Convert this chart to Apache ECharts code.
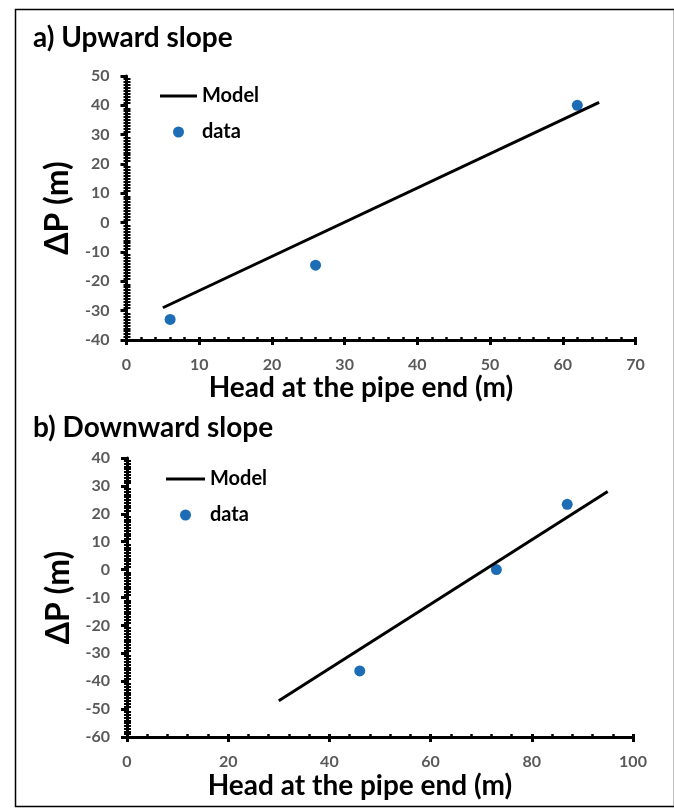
<!DOCTYPE html>
<html>
<head>
<meta charset="utf-8">
<title>Delta P vs head at the pipe end</title>
<script src="https://cdn.jsdelivr.net/npm/echarts@6/dist/echarts.min.js"></script>
<style>
  html, body { margin: 0; padding: 0; background: #fff; }
</style>
</head>
<body>
<div id="main" style="width: 674px; height: 811px;"></div>
<script type="text/javascript">
// a) upward slope
var upModelX = [5, 65];
var upModelY = [-29, 41];
var upDataX = [6, 26, 62];
var upDataY = [-33, -14.5, 40];

// b) downward slope
var downModelX = [30, 95];
var downModelY = [-47, 28];
var downDataX = [46, 73, 87];
var downDataY = [-36.3, 0, 23.4];

var legendNames = ['Model', 'data'];
var panelTitles = ['a) Upward slope', 'b) Downward slope'];
var xAxisTitle = 'Head at the pipe end (m)';
var yAxisTitle = 'ΔP (m)';

var FONT = 'Lato';
var BLUE = '#1c6db5';
var LABEL_GRAY = '#595959';

function pairs(xs, ys) {
  return xs.map(function (x, i) { return [x, ys[i]]; });
}

var myChart = echarts.init(document.getElementById('main'));

// main axis: line, outside ticks, labels, name
function mainX(grid, min, max, interval, minorSplit, nameGap) {
  return {
    type: 'value', gridIndex: grid, position: 'bottom',
    min: min, max: max, interval: interval,
    name: xAxisTitle, nameLocation: 'middle', nameGap: nameGap,
    nameTextStyle: { fontFamily: FONT, fontWeight: 'bold', fontSize: 28, color: '#000', padding: [0, 40, 0, 0] },
    axisLine: { onZero: false, lineStyle: { color: '#000', width: 3 } },
    axisTick: { show: true, length: 5, lineStyle: { color: '#000', width: 3 } },
    minorTick: { show: true, splitNumber: minorSplit, length: 2, lineStyle: { color: '#000', width: 2 } },
    axisLabel: { margin: 17, fontFamily: FONT, fontWeight: 'bold', fontSize: 16, color: LABEL_GRAY },
    splitLine: { show: false }
  };
}
// overlay axis: inside half of the cross ticks
function crossX(grid, min, max, interval, minorSplit) {
  return {
    type: 'value', gridIndex: grid, position: 'bottom',
    min: min, max: max, interval: interval,
    axisLine: { show: false, onZero: false },
    axisTick: { show: true, inside: true, length: 3, lineStyle: { color: '#000', width: 3 } },
    minorTick: { show: true, splitNumber: minorSplit, length: 3, lineStyle: { color: '#000', width: 2.5 } },
    axisLabel: { show: false },
    splitLine: { show: false }
  };
}
function mainY(grid, min, max, interval) {
  return {
    type: 'value', gridIndex: grid, position: 'left',
    min: min, max: max, interval: interval,
    name: yAxisTitle, nameLocation: 'middle', nameGap: 51, nameRotate: 90,
    nameTextStyle: { fontFamily: FONT, fontWeight: 'bold', fontSize: 32, color: '#000' },
    axisLine: { onZero: false, lineStyle: { color: '#000', width: 3 } },
    axisTick: { show: true, length: 6, lineStyle: { color: '#000', width: 3 } },
    minorTick: { show: true, splitNumber: 10, length: 3, lineStyle: { color: '#000', width: 2 } },
    axisLabel: { margin: 17, fontFamily: FONT, fontWeight: 'bold', fontSize: 16, color: LABEL_GRAY },
    splitLine: { show: false }
  };
}
function crossY(grid, min, max, interval) {
  return {
    type: 'value', gridIndex: grid, position: 'left',
    min: min, max: max, interval: interval,
    axisLine: { show: false, onZero: false },
    axisTick: { show: false, inside: true },
    minorTick: { show: true, splitNumber: 10, length: 4, lineStyle: { color: '#000', width: 2 } },
    axisLabel: { show: false },
    splitLine: { show: false }
  };
}

function legendAt(left, top, iconWidth) {
  return {
    data: [
      { name: legendNames[0], icon: 'path://M0,0L40,0L40,3L0,3Z' },
      { name: legendNames[1], icon: 'circle' }
    ],
    orient: 'vertical', left: left, top: top, padding: 0,
    itemWidth: iconWidth, itemHeight: 11, itemGap: 14,
    textStyle: { fontFamily: FONT, fontWeight: 'bold', fontSize: 20, color: '#000', lineHeight: 22 },
    selectedMode: false
  };
}

var option = {
  backgroundColor: '#fff',
  animation: false,
  title: [
    { text: panelTitles[0], left: 28, top: 19, textStyle: { fontFamily: FONT, fontWeight: 'bold', fontSize: 28, color: '#000' } },
    { text: panelTitles[1], left: 28, top: 409, textStyle: { fontFamily: FONT, fontWeight: 'bold', fontSize: 28, color: '#000' } }
  ],
  legend: [legendAt(160, 85, 37), legendAt(166, 468, 39)],
  grid: [
    { left: 126.5, top: 76, width: 509, height: 264 },
    { left: 127, top: 458, width: 506, height: 279 }
  ],
  xAxis: [
    mainX(0, 0, 70, 10, 5, 24),
    mainX(1, 0, 100, 20, 5, 35),
    crossX(0, 0, 70, 10, 5),
    crossX(1, 0, 100, 20, 5)
  ],
  yAxis: [
    mainY(0, -40, 50, 10),
    mainY(1, -60, 40, 10),
    crossY(0, -40, 50, 10),
    crossY(1, -60, 40, 10)
  ],
  series: [
    { name: 'Model', type: 'line', xAxisIndex: 0, yAxisIndex: 0, data: pairs(upModelX, upModelY),
      symbol: 'none', lineStyle: { color: '#000', width: 3 }, itemStyle: { color: '#000' } },
    { name: 'data', type: 'scatter', xAxisIndex: 0, yAxisIndex: 0, data: pairs(upDataX, upDataY),
      symbolSize: 11, itemStyle: { color: BLUE, opacity: 1 } },
    { name: 'Model', type: 'line', xAxisIndex: 1, yAxisIndex: 1, data: pairs(downModelX, downModelY),
      symbol: 'none', lineStyle: { color: '#000', width: 3 }, itemStyle: { color: '#000' } },
    { name: 'data', type: 'scatter', xAxisIndex: 1, yAxisIndex: 1, data: pairs(downDataX, downDataY),
      symbolSize: 11, itemStyle: { color: BLUE, opacity: 1 } }
  ],
  graphic: [
    { type: 'rect', left: 13, top: 7, shape: { width: 659, height: 797 },
      style: { fill: 'none', stroke: '#000', lineWidth: 1.5 }, silent: true, z: -1 }
  ]
};

myChart.setOption(option);
</script>
</body>
</html>
